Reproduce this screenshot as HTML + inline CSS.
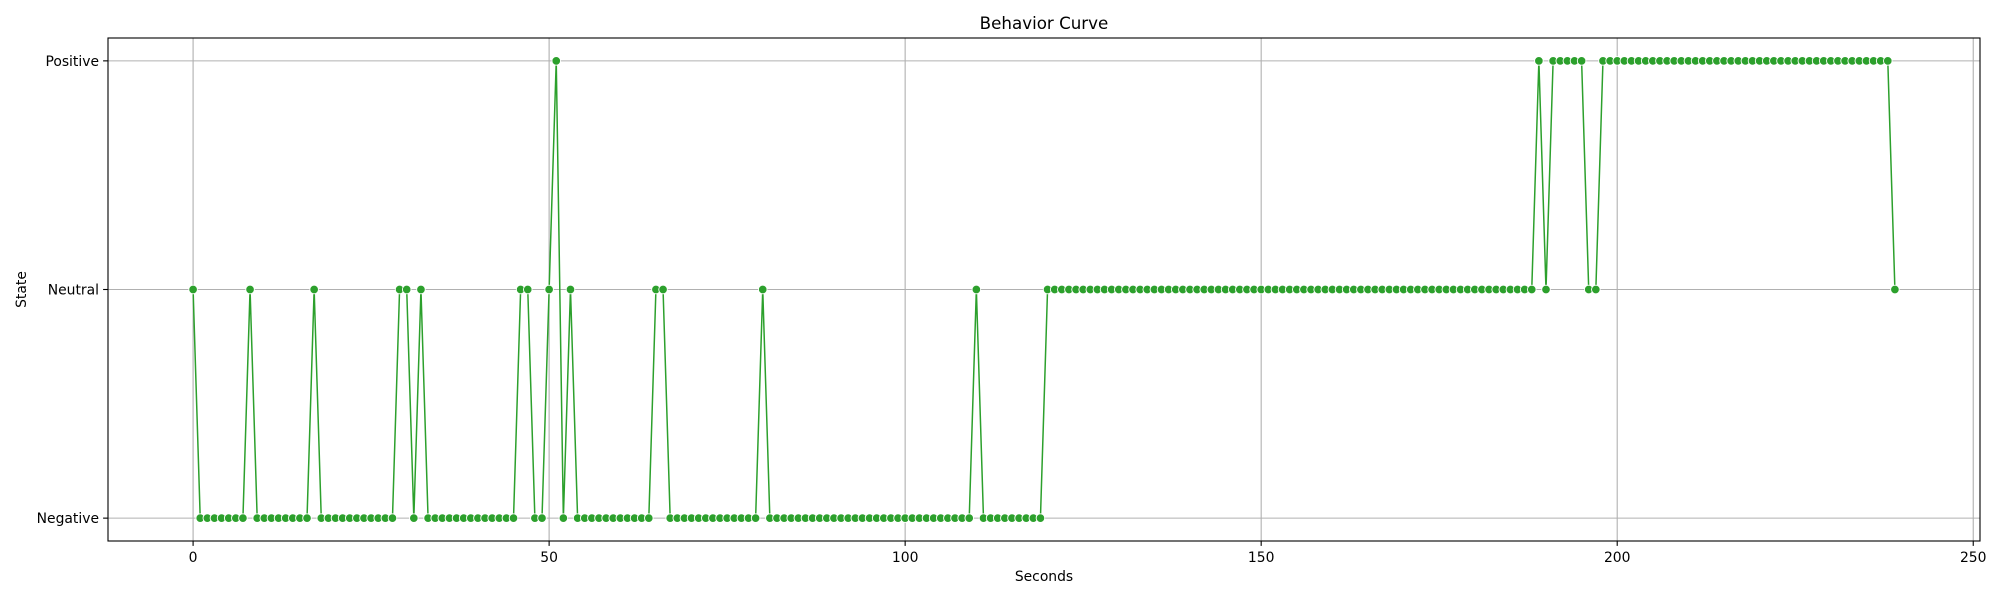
<!DOCTYPE html>
<html><head><meta charset="utf-8"><style>
html,body{margin:0;padding:0;background:#fff;}
svg{display:block;font-family:"DejaVu Sans","Liberation Sans",sans-serif;}
</style></head><body>
<svg id="chart" width="2000" height="600" viewBox="0 0 2000 600" xmlns="http://www.w3.org/2000/svg">
<rect width="2000" height="600" fill="#fff"/>
<g id="grid"></g>
<g id="series"></g>
<g id="axes"></g>
<text x="1044" y="29" text-anchor="middle" font-size="16.7" fill="#000">Behavior Curve</text>
<text x="1044" y="581" text-anchor="middle" font-size="13.9" fill="#000">Seconds</text>
<text x="0" y="0" transform="translate(26,289.5) rotate(-90)" text-anchor="middle" font-size="13.9" fill="#000">State</text>
</svg>
<script>
const stateLabels = ["Negative", "Neutral", "Positive"];
const xTicks = [0, 50, 100, 150, 200, 250];
// state per second (0=Negative,1=Neutral,2=Positive)
const neutralSeconds = [0, 8, 17, 29, 30, 32, 46, 47, 50, 53, 65, 66, 80, 110, 190, 196, 197, 239];
const positiveSeconds = [51, 189, 191, 192, 193, 194, 195];
const values = [];
for (let i = 0; i < 240; i++) {
  let v = 0;
  if (i >= 120 && i <= 188) v = 1;
  if (i >= 198 && i <= 238) v = 2;
  if (neutralSeconds.includes(i)) v = 1;
  if (positiveSeconds.includes(i)) v = 2;
  values.push(v);
}
const L = 108, R = 1980, T = 38, B = 541;
const xmin = -11.95, xmax = 250.95, ymin = -0.1, ymax = 2.1;
const sx = v => L + (v - xmin) / (xmax - xmin) * (R - L);
const sy = v => B - (v - ymin) / (ymax - ymin) * (B - T);
const NS = "http://www.w3.org/2000/svg";
function mk(tag, attrs, parent) {
  const e = document.createElementNS(NS, tag);
  for (const k in attrs) e.setAttribute(k, attrs[k]);
  parent.appendChild(e);
  return e;
}
const grid = document.getElementById('grid'), axes = document.getElementById('axes'), series = document.getElementById('series');
xTicks.forEach(t => {
  const x = sx(t);
  const g = mk('line', {x1: x, x2: x, y1: T, y2: B, stroke: '#b0b0b0', 'stroke-width': 1.1}, grid);
  
  
  const tk = mk('line', {x1: x, x2: x, y1: B, y2: B + 4.9, stroke: '#000', 'stroke-width': 1.1}, axes);
  
  
  const tx = mk('text', {x: x, y: B + 21, 'text-anchor': 'middle', 'font-size': 13.9, fill: '#000'}, axes);
  tx.textContent = t;
  
  
});
stateLabels.forEach((s, i) => {
  const y = sy(i);
  const g = mk('line', {x1: L, x2: R, y1: y, y2: y, stroke: '#b0b0b0', 'stroke-width': 1.1}, grid);
  
  
  const tk = mk('line', {x1: L - 4.9, x2: L, y1: y, y2: y, stroke: '#000', 'stroke-width': 1.1}, axes);
  
  
  const tx = mk('text', {x: L - 9, y: y + 5, 'text-anchor': 'end', 'font-size': 13.9, fill: '#000'}, axes);
  tx.textContent = s;
  
  
});
const frame = mk('rect', {x: L, y: T, width: R - L, height: B - T, fill: 'none', stroke: '#000', 'stroke-width': 1.1}, axes);


const pts = values.map((v, i) => sx(i).toFixed(2) + ',' + sy(v).toFixed(2)).join(' ');
const line = mk('polyline', {points: pts, fill: 'none', stroke: '#2ca02c', 'stroke-width': 1.5}, series);


values.forEach((v, i) => {
  const c = mk('circle', {cx: sx(i), cy: sy(v), r: 4.3, fill: '#2ca02c', stroke: '#fff', 'stroke-width': 0.9}, series);
  
  
});
</script>
</body></html>
